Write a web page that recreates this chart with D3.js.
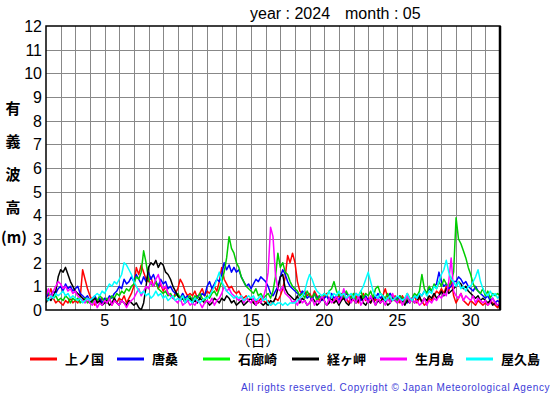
<!DOCTYPE html>
<html>
<head>
<meta charset="utf-8">
<script src="https://cdn.jsdelivr.net/npm/d3@7"></script>
<style>
  body { margin: 0; background: #fff; }
  svg { display: block; }
</style>
</head>
<body>
<svg id="canvas" width="555" height="395"></svg>
<script>
// significant wave height, May 2024, one value every 4 hours from day 1 00h

var stations = ['上ノ国', '唐桑', '石廊崎', '経ヶ岬', '生月島', '屋久島']
var colors = ['#ff0000', '#0000ff', '#00cc00', '#000000', '#ff00ff', '#00ffff']
var legendColors = ['#ff0000', '#0000ff', '#00ff00', '#000000', '#ff00ff', '#00ffff']

var kaminokuni = [
  0.8,0.6,0.9,0.5,0.3,0.4, 0.3,0.2,0.4,0.3,0.5,0.3, 0.4,0.3,0.5,1.7,1.3,0.9,
  0.6,0.4,0.2,0.4,0.3,0.5, 0.4,0.3,0.5,0.2,0.4,0.3, 0.5,0.4,0.6,0.3,0.5,0.7,
  1.0,1.8,1.5,1.9,1.6,1.3, 1.2,1.4,1.0,1.2,0.9,1.1, 0.8,1.0,0.7,0.6,0.5,0.7,
  0.9,1.3,1.1,0.8,0.6,0.7, 0.6,0.8,0.5,0.7,0.9,0.6, 0.8,0.7,0.9,1.0,0.8,1.2,
  1.8,1.3,1.1,0.9,1.0,0.8, 0.7,0.8,0.6,0.5,0.6,0.4, 0.5,0.3,0.4,0.3,0.5,0.4,
  0.3,0.4,0.2,0.3,0.5,0.4, 0.6,0.9,1.4,2.3,2.0,2.4, 2.0,1.2,0.8,0.7,0.8,0.6,
  0.7,0.5,0.8,0.6,0.4,0.6, 0.5,0.7,0.4,0.6,0.3,0.5, 0.6,0.4,0.7,0.5,0.3,0.6,
  0.4,0.6,0.3,0.5,0.7,0.4, 0.5,0.3,0.6,0.4,0.5,0.3, 0.6,0.9,0.5,0.7,0.4,0.6,
  0.5,0.3,0.6,0.4,0.7,0.5, 0.4,0.6,0.3,0.5,0.4,0.2, 0.3,0.5,0.4,0.6,0.8,0.7,
  0.9,0.7,1.0,0.8,1.3,0.6, 0.3,0.5,0.7,0.4,0.3,0.2, 0.4,0.3,0.2,0.4,0.3,0.2,
  0.3,0.2,0.4,0.3,0.2,0.1, 0.2
]
var karakuwa = [
  0.5,0.7,0.6,0.8,0.7,0.9, 1.0,0.8,1.1,0.9,1.0,0.8, 0.9,1.0,0.7,0.6,0.5,0.6,
  0.4,0.5,0.6,0.4,0.5,0.3, 0.5,0.4,0.6,0.5,0.7,0.8, 1.0,0.9,1.3,1.1,1.2,1.4,
  1.2,1.5,1.3,1.1,1.4,1.2, 1.6,1.3,1.5,1.2,1.0,1.3, 1.1,1.2,0.9,1.0,0.8,0.7,
  0.6,0.5,0.7,0.5,0.6,0.4, 0.5,0.4,0.6,0.5,0.7,0.6, 1.0,1.2,0.9,1.1,1.3,1.2,
  1.5,2.0,1.7,1.9,1.6,1.8, 1.6,1.7,1.4,1.2,1.0,1.1, 0.9,1.1,1.3,1.2,1.4,1.3,
  1.2,1.0,0.7,0.6,0.8,1.0, 1.4,1.7,1.5,1.2,1.0,0.9, 0.8,0.7,0.6,0.8,0.7,0.5,
  0.6,0.4,0.7,0.5,0.6,0.4, 0.5,0.6,0.4,0.7,0.5,0.6, 0.4,0.6,0.5,0.7,0.6,0.4,
  0.5,0.7,0.6,0.4,0.5,0.6, 0.4,0.5,0.6,0.5,0.7,0.5, 0.6,0.4,0.5,0.7,0.5,0.4,
  0.5,0.6,0.4,0.5,0.3,0.5, 0.4,0.6,0.5,0.7,0.6,0.8, 0.7,0.9,0.8,1.0,1.1,1.6,
  1.2,1.0,1.1,0.9,1.0,1.2, 1.2,1.4,1.3,1.1,1.2,1.0, 0.9,0.8,1.0,0.8,0.7,0.6,
  0.5,0.6,0.4,0.5,0.3,0.4, 0.3
]
var irozaki = [
  0.9,0.7,0.6,0.5,0.6,0.4, 0.5,0.4,0.6,0.5,0.3,0.5, 0.4,0.5,0.3,0.4,0.5,0.3,
  0.4,0.3,0.5,0.4,0.6,0.5, 0.3,0.5,0.4,0.6,0.5,0.7, 0.6,0.8,0.7,0.9,0.8,1.0,
  1.1,1.4,1.3,1.6,2.5,2.0, 1.3,1.1,1.0,1.2,0.9,0.8, 0.7,0.8,0.6,0.7,0.5,0.6,
  0.7,0.5,0.6,0.4,0.5,0.6, 0.4,0.6,0.5,0.7,0.5,0.4, 0.6,0.5,0.7,0.8,0.6,0.9,
  1.2,1.6,2.2,3.1,2.6,2.4, 2.0,1.8,1.4,1.2,1.0,0.9, 0.8,0.7,0.9,0.6,0.7,0.5,
  0.6,0.7,0.5,0.8,1.4,2.4, 1.8,2.0,1.6,1.5,1.2,1.0, 0.9,0.8,0.6,0.7,0.5,0.8,
  0.6,0.5,0.7,0.4,0.6,0.5, 0.7,0.6,0.8,0.9,1.2,0.8, 0.6,0.7,0.5,0.8,0.6,0.5,
  0.7,0.4,0.6,0.8,0.5,0.7, 0.6,0.8,0.5,0.9,1.0,0.7, 0.6,0.5,0.7,0.4,0.6,0.5,
  0.4,0.6,0.5,0.3,0.5,0.4, 0.5,0.7,0.6,0.8,1.5,0.9, 0.7,1.0,0.8,1.1,0.9,1.2,
  1.0,1.3,1.1,1.0,1.2,1.6, 3.9,3.0,2.8,2.5,2.2,1.8, 1.5,1.1,0.9,0.8,0.7,0.9,
  0.6,0.8,0.5,0.7,0.6,0.7, 0.6
]
var kyogamisaki = [
  0.3,0.5,0.4,0.6,0.8,1.4, 1.7,1.6,1.8,1.5,1.2,1.0, 0.8,0.7,0.6,0.5,0.4,0.5,
  0.3,0.4,0.5,0.3,0.4,0.2, 0.3,0.4,0.2,0.3,0.5,0.3, 0.2,0.4,0.3,0.2,0.4,0.3,
  0.2,0.3,0.1,0.0,0.3,1.0, 1.8,2.0,1.9,2.1,1.8,2.0, 1.9,1.6,1.5,1.3,1.0,0.8,
  0.6,0.4,0.5,0.3,0.4,0.5, 0.3,0.4,0.3,0.5,0.4,0.3, 0.4,0.2,0.3,0.5,0.4,0.3,
  0.5,0.4,0.6,0.5,0.3,0.4, 0.2,0.3,0.4,0.2,0.3,0.4, 0.5,0.3,0.2,0.4,0.3,0.2,
  0.3,0.2,0.4,0.3,0.5,0.9, 1.4,1.5,0.9,0.7,0.6,0.5, 0.4,0.6,0.3,0.5,0.4,0.2,
  0.3,0.5,0.4,0.2,0.3,0.5, 0.4,0.2,0.3,0.5,0.3,0.4, 0.2,0.4,0.5,0.3,0.2,0.4,
  0.5,0.3,0.4,0.6,0.3,0.2, 0.4,0.3,0.5,0.2,0.4,0.3, 0.5,0.4,0.2,0.3,0.5,0.4,
  0.3,0.5,0.4,0.2,0.4,0.3, 0.5,0.3,0.4,0.6,0.3,0.5, 0.4,0.6,0.5,0.7,0.5,0.6,
  0.8,0.6,0.9,0.7,0.8,0.9, 1.0,1.2,1.1,0.9,1.0,0.8, 0.7,0.6,0.5,0.6,0.4,0.5,
  0.4,0.3,0.4,0.2,0.3,0.2, 0.2
]
var ikitsukishima = [
  0.6,0.9,0.5,0.8,1.0,1.2, 1.1,0.9,1.0,0.8,0.9,0.7, 0.8,0.6,0.5,0.4,0.3,0.5,
  0.3,0.2,0.4,0.1,0.3,0.2, 0.4,0.3,0.5,0.2,0.4,0.3, 0.2,0.4,0.3,0.1,0.3,0.4,
  0.5,0.7,0.9,0.6,0.8,1.0, 0.9,1.2,1.0,1.3,1.5,1.1, 0.9,1.0,0.7,0.6,0.5,0.4,
  0.3,0.5,0.2,0.3,0.4,0.2, 0.3,0.2,0.4,0.3,0.1,0.3, 0.4,0.3,0.5,0.2,0.4,0.5,
  0.7,1.0,0.8,0.9,0.7,0.6, 0.5,0.4,0.6,0.3,0.5,0.4, 0.3,0.5,0.2,0.4,0.3,0.5,
  0.9,1.6,3.5,3.1,1.5,0.9, 0.8,1.0,0.7,0.6,0.5,0.3, 0.4,0.2,0.5,0.3,0.4,0.2,
  0.3,0.5,0.2,0.4,0.3,0.6, 0.4,0.2,0.5,0.3,0.4,0.6, 0.3,0.5,0.9,0.4,0.6,0.3,
  0.5,0.3,0.6,0.2,0.4,0.5, 0.3,0.6,0.4,0.2,0.5,0.3, 0.4,0.2,0.5,0.3,0.7,0.4,
  0.3,0.5,0.2,0.4,0.6,0.3, 0.5,0.3,0.4,0.2,0.3,0.5, 0.2,0.4,0.3,0.5,0.4,0.6,
  0.5,0.7,0.6,1.2,2.2,0.8, 0.6,0.5,0.7,0.4,0.6,0.5, 0.4,0.6,0.3,0.5,0.4,0.3,
  0.4,0.2,0.3,0.5,0.3,0.2, 0.3
]
var yakushima = [
  0.5,0.4,0.6,0.5,0.7,0.6, 0.7,0.8,0.6,0.7,0.5,0.6, 0.5,0.4,0.5,0.3,0.4,0.5,
  0.4,0.5,0.6,0.7,0.6,0.8, 0.7,0.9,1.1,1.0,1.2,1.1, 1.3,1.5,2.0,1.9,1.7,1.5,
  1.2,1.0,0.8,0.7,0.8,0.6, 0.7,0.5,0.6,0.8,0.6,0.7, 0.5,0.6,0.4,0.5,0.6,0.4,
  0.5,0.4,0.6,0.3,0.5,0.4, 0.3,0.5,0.4,0.3,0.4,0.5, 0.5,0.6,0.8,1.0,1.3,1.6,
  1.2,1.0,0.8,0.7,0.6,0.5, 0.6,0.5,0.6,0.4,0.5,0.6, 0.5,0.6,0.4,0.5,0.6,0.4,
  0.5,0.3,0.2,0.3,0.2,0.3, 0.3,0.2,0.3,0.2,0.3,0.3, 0.3,0.4,0.5,0.6,0.8,1.2,
  1.5,1.3,1.0,0.8,0.7,0.6, 0.7,0.6,0.8,0.5,0.7,0.6, 0.8,0.6,0.7,0.5,0.6,0.7,
  0.5,0.7,0.6,0.8,1.0,1.3, 1.6,1.2,0.8,0.6,0.5,0.7, 0.6,0.4,0.5,0.6,0.4,0.5,
  0.6,0.5,0.4,0.5,0.7,0.5, 0.4,0.6,0.5,0.7,0.6,0.8, 0.6,0.8,0.7,1.0,0.9,1.2,
  1.5,1.7,2.1,1.6,1.3,1.2, 1.0,1.2,0.9,1.0,0.8,1.0, 1.0,1.2,1.4,1.7,1.2,0.9,
  0.7,0.6,0.8,0.6,0.7,0.5, 0.6
]
var series = [kaminokuni, karakuwa, irozaki, kyogamisaki, ikitsukishima, yakushima]

var dayTicks = [5, 10, 15, 20, 25, 30]
var heightTicks = d3.range(0, 13)
var stepsPerDay = 6

var plotLeft = 46, plotRight = 500, plotTop = 26, plotBottom = 310

var x = d3.scaleLinear().domain([1, 32]).range([plotLeft, plotRight])
var y = d3.scaleLinear().domain([0, 12]).range([plotBottom, plotTop])

var svg = d3.select('#canvas')
var font = 'Liberation Sans, Arial, sans-serif'
var jpFont = 'Noto Sans CJK JP, sans-serif'

// title
svg.append('text')
  .attr('x', 250).attr('y', 19)
  .attr('font-family', font).attr('font-size', 16)
  .text('year : 2024')
svg.append('text')
  .attr('x', 345).attr('y', 19)
  .attr('font-family', font).attr('font-size', 16)
  .text('month : 05')

// grid
var grid = svg.append('g')
grid.selectAll('line.v')
  .data(d3.range(2, 32))
  .enter().append('line')
  .attr('x1', function(d) { return Math.round(x(d)) + 0.5 })
  .attr('x2', function(d) { return Math.round(x(d)) + 0.5 })
  .attr('y1', plotTop).attr('y2', plotBottom)
  .attr('stroke', '#888').attr('stroke-width', 1)
grid.selectAll('line.h')
  .data(heightTicks.slice(1, 12))
  .enter().append('line')
  .attr('x1', plotLeft).attr('x2', plotRight)
  .attr('y1', function(d) { return Math.round(y(d)) + 0.5 })
  .attr('y2', function(d) { return Math.round(y(d)) + 0.5 })
  .attr('stroke', '#888').attr('stroke-width', 1)

// series
svg.append('clipPath').attr('id', 'clip')
  .append('rect').attr('x', plotLeft).attr('y', plotTop)
  .attr('width', plotRight - plotLeft).attr('height', plotBottom - plotTop)

var line = d3.line()
  .x(function(d, i) { return x(1 + i / stepsPerDay) })
  .y(function(d) { return y(d) })

svg.append('g').attr('clip-path', 'url(#clip)')
  .selectAll('path')
  .data(series)
  .enter().append('path')
  .attr('d', line)
  .attr('fill', 'none')
  .attr('stroke', function(d, i) { return colors[i] })
  .attr('stroke-width', 1.5)
  .attr('stroke-linejoin', 'round')

// frame
svg.append('rect')
  .attr('x', plotLeft).attr('y', plotTop)
  .attr('width', plotRight - plotLeft).attr('height', plotBottom - plotTop)
  .attr('fill', 'none').attr('stroke', '#000').attr('stroke-width', 1.5)
svg.append('line')
  .attr('x1', plotRight).attr('x2', plotRight).attr('y1', plotTop).attr('y2', plotBottom)
  .attr('stroke', '#000').attr('stroke-width', 2.5)

// y tick labels
svg.append('g').selectAll('text')
  .data(heightTicks)
  .enter().append('text')
  .attr('x', 42)
  .attr('y', function(d) { return y(d) + 6 })
  .attr('text-anchor', 'end')
  .attr('font-family', font).attr('font-size', 16)
  .text(function(d) { return d })

// x tick labels
svg.append('g').selectAll('text')
  .data(dayTicks)
  .enter().append('text')
  .attr('x', function(d) { return x(d) })
  .attr('y', 326)
  .attr('text-anchor', 'middle')
  .attr('font-family', font).attr('font-size', 16)
  .text(function(d) { return d })

svg.append('text')
  .attr('x', 258).attr('y', 346)
  .attr('text-anchor', 'middle')
  .attr('font-family', jpFont).attr('font-size', 15)
  .text('（日）')

// y axis title, stacked
var yTitle = ['有', '義', '波', '高']
svg.append('g').selectAll('text')
  .data(yTitle)
  .enter().append('text')
  .attr('x', 13)
  .attr('y', function(d, i) { return 114 + i * 33 })
  .attr('text-anchor', 'middle')
  .attr('font-family', jpFont).attr('font-size', 15).attr('font-weight', 'bold')
  .text(function(d) { return d })
svg.append('text')
  .attr('x', 14).attr('y', 243)
  .attr('text-anchor', 'middle')
  .attr('font-family', jpFont).attr('font-size', 15).attr('font-weight', 'bold')
  .text('(m)')

// legend
var legendX = [30, 117, 203, 292, 380, 466]
var lg = svg.append('g').selectAll('g')
  .data(stations)
  .enter().append('g')
  .attr('transform', function(d, i) { return 'translate(' + legendX[i] + ',359)' })
lg.append('line')
  .attr('x1', 0).attr('x2', 27).attr('y1', 0).attr('y2', 0)
  .attr('stroke', function(d, i) { return legendColors[i] })
  .attr('stroke-width', 3)
lg.append('text')
  .attr('x', 35).attr('y', 5)
  .attr('font-family', jpFont).attr('font-size', 13).attr('font-weight', 'bold')
  .text(function(d) { return d })

// copyright
svg.append('text')
  .attr('x', 241).attr('y', 391)
  .attr('font-family', font).attr('font-size', 10)
  .attr('letter-spacing', 0.62)
  .attr('fill', '#3c3cd8')
  .text('All rights reserved. Copyright © Japan Meteorological Agency')
</script>
</body>
</html>
